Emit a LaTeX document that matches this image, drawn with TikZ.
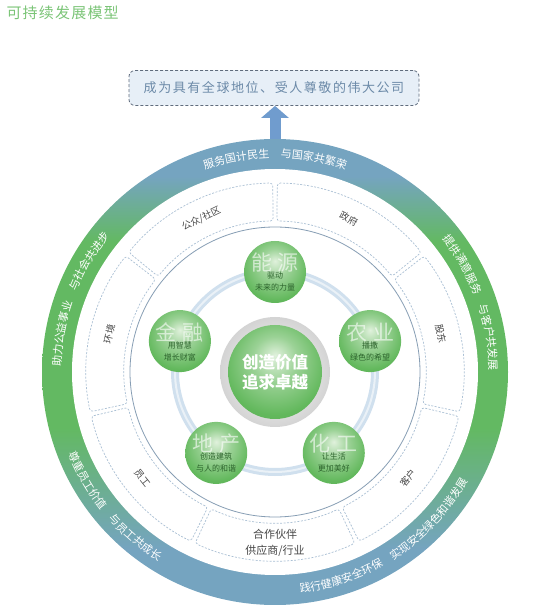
\documentclass[tikz,border=0pt]{standalone}
\usepackage{fontspec}
\setmainfont{Noto Sans CJK SC}
\newfontfamily\goalfont[LetterSpace=12]{Noto Sans CJK SC}
\newfontfamily\titlefont[LetterSpace=8]{Noto Sans CJK SC}
\usepackage{xcolor}
\usepackage{tikz}
\usetikzlibrary{arrows.meta, positioning, calc, decorations.text}

\definecolor{ringblue}{RGB}{117,164,192}
\definecolor{ringgreen}{RGB}{99,185,98}
\definecolor{ballgreen}{RGB}{98,184,92}
\definecolor{ballhi}{RGB}{224,241,220}
\definecolor{dashblue}{RGB}{170,192,212}
\definecolor{solidblue}{RGB}{135,158,180}
\definecolor{paleblue}{RGB}{208,224,238}
\definecolor{goalfill}{RGB}{231,239,247}
\definecolor{goaltext}{RGB}{108,138,168}
\definecolor{goalline}{RGB}{95,108,125}
\definecolor{arrowblue}{RGB}{112,156,206}
\definecolor{titlegreen}{RGB}{122,196,118}
\definecolor{labelgrey}{RGB}{70,70,70}
\definecolor{smallgreen}{RGB}{45,100,45}

\pgfdeclareverticalshading{ringshade}{100bp}{color(0bp)=(ringblue); color(31bp)=(ringblue); color(44bp)=(ringgreen); color(64bp)=(ringgreen); color(71bp)=(ringblue); color(100bp)=(ringblue)}
\pgfdeclareradialshading{greenball}{\pgfpoint{0bp}{9bp}}{color(0bp)=(ballhi); color(12bp)=(ballhi!45!ballgreen); color(27bp)=(ballgreen); color(50bp)=(ballgreen!85!black)}

\tikzset{
  sectorline/.style={dashblue, line width=0.7pt, dash pattern=on 2pt off 1.5pt, rounded corners=3pt},
  sectorlabel/.style={text=labelgrey, font=\fontsize{9.5}{11}\selectfont, inner sep=0pt},
  bandtext/.style={decorate, decoration={text along path, text align=center,
      text={|\fontsize{11}{12}\selectfont\color{white}|#1}}},
  satellite/.style={circle, minimum size=62pt, inner sep=0pt, shade, shading=greenball},
  bigchar/.style={text=white, text opacity=0.6, font=\fontsize{21}{21}\selectfont, inner sep=0pt},
  subtext/.style={text=smallgreen, font=\fontsize{8}{12}\selectfont, align=center, inner sep=0pt},
  goalbox/.style={draw=goalline, fill=goalfill, line width=0.8pt, densely dashed, rounded corners=6pt,
      minimum width=290pt, minimum height=35pt, text=goaltext, font=\goalfont\fontsize{13}{15}\selectfont},
  goalarrow/.style={-{Triangle[width=27pt, length=12pt]}, line width=11pt, arrowblue}
}

\begin{document}
\begin{tikzpicture}[x=1pt, y=1pt]
  \useasboundingbox (0,0) rectangle (559,614);
  \coordinate (C) at (275,242);

  % title and goal
  \node[anchor=west, text=titlegreen, font=\titlefont\fontsize{15}{17}\selectfont] (title) at (3,601) {可持续发展模型};
  \node[goalbox] (goal) at (274,526) {成为具有全球地位、受人尊敬的伟大公司};

  % outer band
  \shade[shading=ringshade] (C) circle[radius=233];
  \fill[white] (C) circle[radius=203];
  \coordinate (ringtop) at ([shift={(90:233)}]C);
  \draw[goalarrow] (ringtop) -- (ringtop |- goal.south);

  \path[bandtext={服务国计民生　与国家共繁荣}] ([shift={(150:214)}]C) arc[start angle=150, end angle=30, radius=214];
  \path[bandtext={提供满意服务　与客户共发展}] ([shift={(70:214)}]C) arc[start angle=70, end angle=-31, radius=214];
  \path[bandtext={助力公益事业　与社会共进步}] ([shift={(210:214)}]C) arc[start angle=210, end angle=109, radius=214];
  \path[bandtext={践行健康安全环保　实现安全绿色和谐发展}] ([shift={(-120:222)}]C) arc[start angle=-120, end angle=7, radius=222];
  \path[bandtext={尊重员工价值　与员工共成长}] ([shift={(170:222)}]C) arc[start angle=170, end angle=270, radius=222];

  % stakeholder sectors
  \foreach \i in {0,...,6} {
    \pgfmathsetmacro\sa{90-\i*360/7-0.7}
    \pgfmathsetmacro\ea{90-(\i+1)*360/7+0.7}
    \draw[sectorline] ([shift={(\sa:151)}]C) arc[start angle=\sa, end angle=\ea, radius=151]
      -- ([shift={(\ea:189)}]C) arc[start angle=\ea, end angle=\sa, radius=189] -- cycle;
  }
  \node[sectorlabel, rotate=25.7] (gongzhong) at ([shift={(115.7:170)}]C) {公众/社区};
  \node[sectorlabel, rotate=-25.7] (zhengfu) at ([shift={(64.3:170)}]C) {政府};
  \node[sectorlabel, rotate=-77.1] (gudong) at ([shift={(12.9:170)}]C) {股东};
  \node[sectorlabel, rotate=51.4] (kehu) at ([shift={(-38.6:170)}]C) {客户};
  \node[sectorlabel, font=\fontsize{11}{16}\selectfont, align=center] (huoban) at ([shift={(-90:171)}]C) {合作伙伴\\供应商/行业};
  \node[sectorlabel, rotate=-51.4] (yuangong) at ([shift={(-141.4:170)}]C) {员工};
  \node[sectorlabel, rotate=77.1] (huanjing) at ([shift={(167.1:170)}]C) {环境};

  \draw[solidblue, line width=0.8pt] (C) circle[radius=145];

  % businesses
  \draw[paleblue, line width=8pt] (C) circle[radius=100];
  \draw[white!55!paleblue, line width=2pt] (C) circle[radius=100];
  \foreach \ang/\nm/\ca/\cb/\sub in {90/nengyuan/能/源/{驱动\\未来的力量},
      18/nongye/农/业/{播撒\\绿色的希望},
      -54/huagong/化/工/{让生活\\更加美好},
      -126/dichan/地/产/{创造建筑\\与人的和谐},
      162/jinrong/金/融/{用智慧\\增长财富}} {
    \node[satellite] (\nm) at ([shift={(\ang:100)}]C) {};
    \node[bigchar] (\nm-big) at ([yshift=9pt]\nm.center) {\ca\hspace{6pt}\cb};
    \node[subtext] (\nm-sub) at ([yshift=-10pt]\nm.center) {\sub};
  }

  % core
  \node[circle, minimum size=110pt, inner sep=0pt, inner color=white, outer color=black!17] (corerim) at (C) {};
  \node[circle, minimum size=94pt, inner sep=0pt, shade, shading=greenball, text=white, align=center,
    font=\fontsize{16.5}{20}\selectfont\bfseries] (core) at (C) {创造价值\\追求卓越};
\end{tikzpicture}
\end{document}
